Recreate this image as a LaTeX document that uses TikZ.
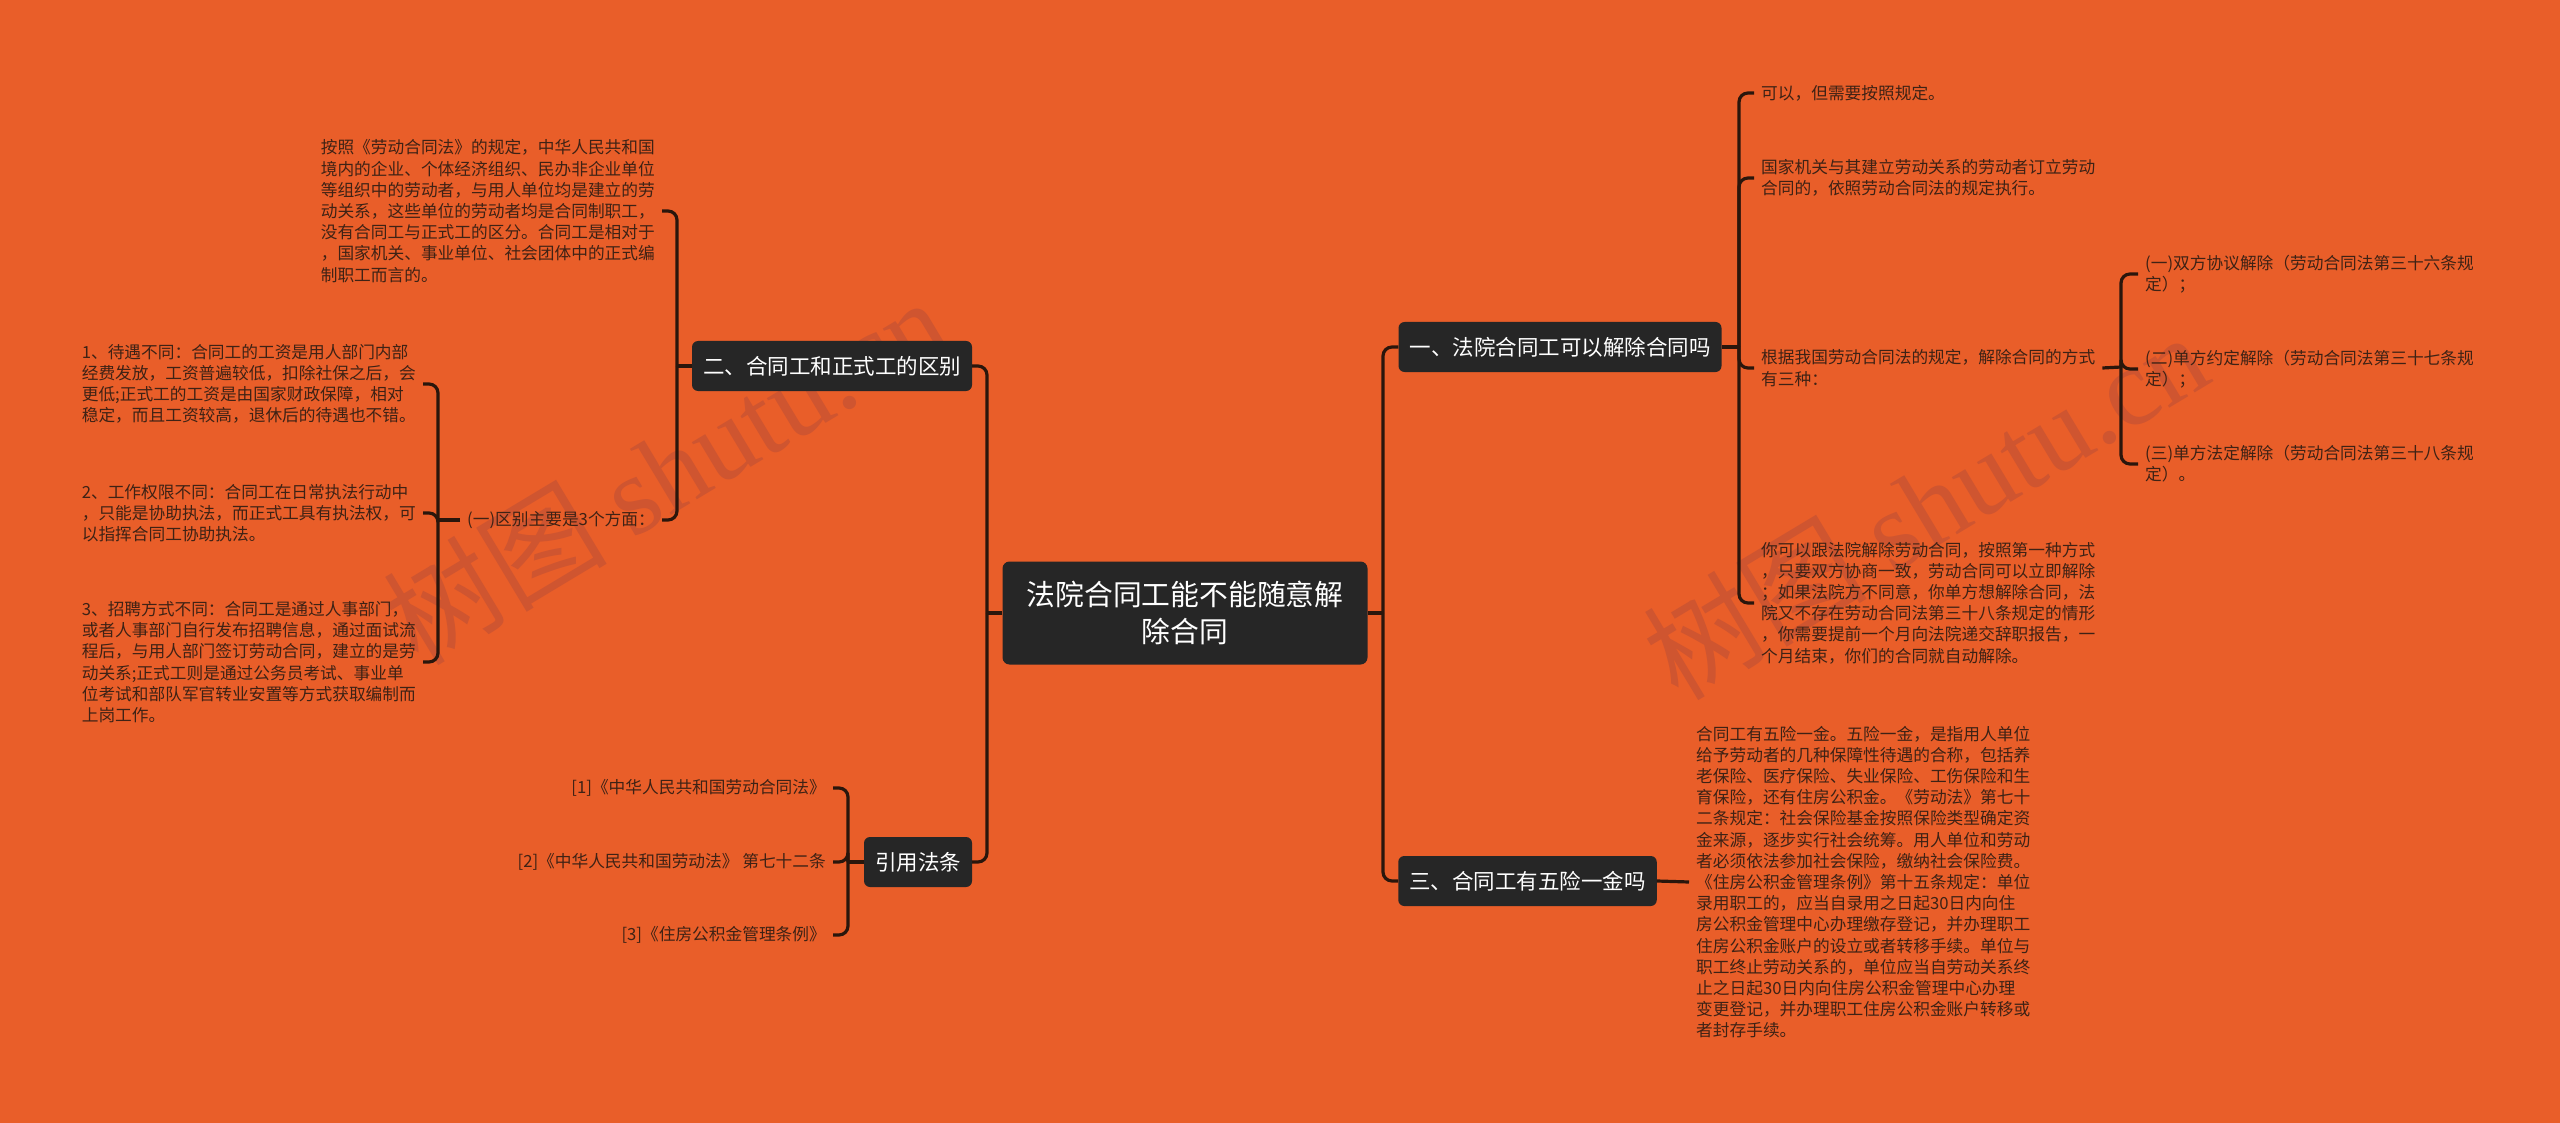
\documentclass[tikz,border=0pt]{standalone}
\usepackage{fontspec}
\setmainfont{Noto Sans CJK SC}
\newfontfamily\wmfont{Liberation Serif}
\usetikzlibrary{calc}
\definecolor{bgC}{HTML}{E95E29}
\definecolor{nodeC}{HTML}{262626}
\definecolor{lineC}{HTML}{2A160C}
\definecolor{textC}{HTML}{3E2215}
\definecolor{wmC}{HTML}{CF5530}
\tikzset{
  conn/.style={draw=lineC, line width=3.2pt, rounded corners=9pt},
  topic/.style={fill=nodeC, text=white, rounded corners=6pt,
    font=\fontsize{21.5pt}{26pt}\selectfont, minimum height=50pt, inner xsep=11pt},
  leaf/.style={text=textC, font=\fontsize{16.7pt}{21.2pt}\selectfont, align=left,
    inner xsep=7pt, inner ysep=0pt},
  wm/.style={text=wmC, rotate=31, font=\fontsize{112pt}{120pt}\selectfont}
}
\begin{document}
\begin{tikzpicture}[x=1pt,y=-1pt]
\useasboundingbox (0,0) rectangle (2560,1123);
\fill[bgC] (0,0) rectangle (2560,1123);
% watermarks
\node[wm] (wmA) at (665,470) {树图 {\wmfont shutu.cn}};
\node[wm] (wmB) at (1925,505) {树图 {\wmfont shutu.cn}};
% topics
\node[fill=nodeC, text=white, rounded corners=7pt, minimum width=365pt, minimum height=103pt,
  align=center, font=\fontsize{28.8pt}{37.5pt}\selectfont] (C) at (1185,613) {法院合同工能不能随意解\\除合同};
\node[topic] (N2) at (832,366) {二、合同工和正式工的区别};
\node[topic] (N4) at (918,862) {引用法条};
\node[topic] (N1) at (1560,347) {一、法院合同工可以解除合同吗};
\node[topic] (N3) at (1527.5,881) {三、合同工有五险一金吗};
% junctions
\coordinate (tL) at (987,613);
\coordinate (tR) at (1383,613);
\coordinate (j1) at (1739,347);
\coordinate (j2) at (677,366);
\coordinate (j3) at (438,520);
\coordinate (j4) at (848,862);
\coordinate (j5) at (2121,367);
% right leaves
\node[leaf, anchor=west] (L11) at (1754,93) {可以，但需要按照规定。};
\node[leaf, anchor=west] (L12) at (1754,178) {国家机关与其建立劳动关系的劳动者订立劳动\\合同的，依照劳动合同法的规定执行。};
\node[leaf, anchor=west] (L13) at (1754,368) {根据我国劳动合同法的规定，解除合同的方式\\有三种：};
\node[leaf, anchor=west] (L14) at (1754,603) {你可以跟法院解除劳动合同，按照第一种方式\\，只要双方协商一致，劳动合同可以立即解除\\；如果法院方不同意，你单方想解除合同，法\\院又不存在劳动合同法第三十八条规定的情形\\，你需要提前一个月向法院递交辞职报告，一\\个月结束，你们的合同就自动解除。};
\node[leaf, anchor=west] (L131) at (2138,274) {(一)双方协议解除（劳动合同法第三十六条规\\定）；};
\node[leaf, anchor=west] (L132) at (2138,369) {(二)单方约定解除（劳动合同法第三十七条规\\定）；};
\node[leaf, anchor=west] (L133) at (2138,464) {(三)单方法定解除（劳动合同法第三十八条规\\定）。};
\node[leaf, anchor=west] (L31) at (1689,882) {合同工有五险一金。五险一金，是指用人单位\\给予劳动者的几种保障性待遇的合称，包括养\\老保险、医疗保险、失业保险、工伤保险和生\\育保险，还有住房公积金。《劳动法》第七十\\二条规定：社会保险基金按照保险类型确定资\\金来源，逐步实行社会统筹。用人单位和劳动\\者必须依法参加社会保险，缴纳社会保险费。\\《住房公积金管理条例》第十五条规定：单位\\录用职工的，应当自录用之日起30日内向住\\房公积金管理中心办理缴存登记，并办理职工\\住房公积金账户的设立或者转移手续。单位与\\职工终止劳动关系的，单位应当自劳动关系终\\止之日起30日内向住房公积金管理中心办理\\变更登记，并办理职工住房公积金账户转移或\\者封存手续。};
% left leaves
\node[leaf, anchor=east] (L21) at (662,211) {按照《劳动合同法》的规定，中华人民共和国\\境内的企业、个体经济组织、民办非企业单位\\等组织中的劳动者，与用人单位均是建立的劳\\动关系，这些单位的劳动者均是合同制职工，\\没有合同工与正式工的区分。合同工是相对于\\，国家机关、事业单位、社会团体中的正式编\\制职工而言的。};
\node[leaf, anchor=east] (L22) at (662,520) {(一)区别主要是3个方面：};
\node[leaf, anchor=east] (L221) at (423,384) {1、待遇不同：合同工的工资是用人部门内部\\经费发放，工资普遍较低，扣除社保之后，会\\更低;正式工的工资是由国家财政保障，相对\\稳定，而且工资较高，退休后的待遇也不错。};
\node[leaf, anchor=east] (L222) at (423,513) {2、工作权限不同：合同工在日常执法行动中\\，只能是协助执法，而正式工具有执法权，可\\以指挥合同工协助执法。};
\node[leaf, anchor=east] (L223) at (423,662) {3、招聘方式不同：合同工是通过人事部门，\\或者人事部门自行发布招聘信息，通过面试流\\程后，与用人部门签订劳动合同，建立的是劳\\动关系;正式工则是通过公务员考试、事业单\\位考试和部队军官转业安置等方式获取编制而\\上岗工作。};
\node[leaf, anchor=east] (L41) at (833,788) {{}[1]《中华人民共和国劳动合同法》};
\node[leaf, anchor=east] (L42) at (833,862) {{}[2]《中华人民共和国劳动法》 第七十二条};
\node[leaf, anchor=east] (L43) at (833,935) {{}[3]《住房公积金管理条例》};
% connectors
\draw[conn] (C.west) -- (tL);
\draw[conn] (N2.east) -| (tL);
\draw[conn] (N4.east) -| (tL);
\draw[conn] (C.east) -- (tR);
\draw[conn] (N1.west) -| (tR);
\draw[conn] (N3.west) -| (tR);
\draw[conn] (N1.east) -- (j1);
\foreach \t in {L11,L12,L13,L14} \draw[conn] (j1) |- (\t.west);
\draw[conn] (L13.east) -- (j5);
\foreach \t in {L131,L132,L133} \draw[conn] (j5) |- (\t.west);
\draw[conn] (N3.east) -- (L31.west);
\draw[conn] (N2.west) -- (j2);
\foreach \t in {L21,L22} \draw[conn] (j2) |- (\t.east);
\draw[conn] (L22.west) -- (j3);
\foreach \t in {L221,L222,L223} \draw[conn] (j3) |- (\t.east);
\draw[conn] (N4.west) -- (j4);
\foreach \t in {L41,L42,L43} \draw[conn] (j4) |- (\t.east);
\end{tikzpicture}
\end{document}
